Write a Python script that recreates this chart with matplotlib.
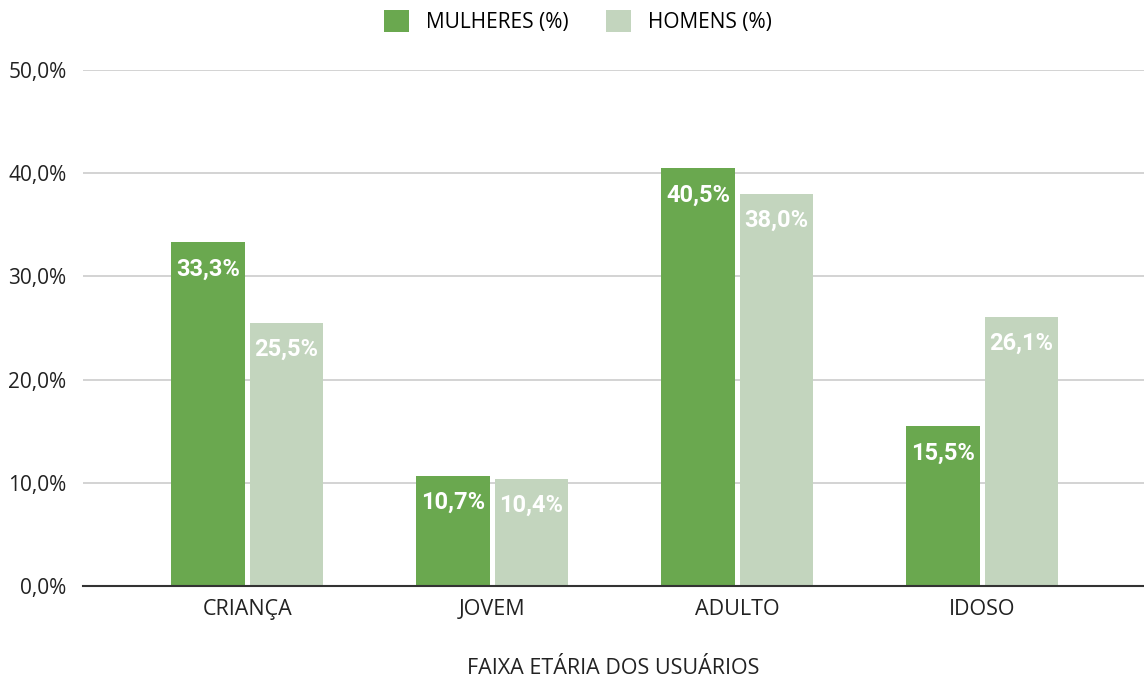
import numpy as np
import matplotlib.pyplot as plt

categorias = ["CRIANÇA", "JOVEM", "ADULTO", "IDOSO"]
mulheres = [33.3, 10.7, 40.5, 15.5]
homens = [25.5, 10.4, 38.0, 26.1]
series = ["MULHERES (%)", "HOMENS (%)"]
yticks = [0, 10, 20, 30, 40, 50]

cor_m = "#6aa84f"
cor_h = "#c3d5be"

plt.rcParams['font.family'] = ['Open Sans', 'DejaVu Sans']

fig = plt.figure(figsize=(11.44, 6.81), dpi=100)
ax = fig.add_axes([0.0726, 0.1395, 0.9274, 0.7575])

x = np.arange(len(categorias))
w = 0.30
gap = 0.02

b1 = ax.bar(x - w/2 - gap/2, mulheres, w, color=cor_m, label=series[0], zorder=3)
b2 = ax.bar(x + w/2 + gap/2, homens, w, color=cor_h, label=series[1], zorder=3)

def fmt(v):
	return f"{v:.1f}%".replace(".", ",")

for bars, vals in ((b1, mulheres), (b2, homens)):
	for b, v in zip(bars, vals):
		ax.text(b.get_x() + b.get_width()/2, v - 2.6, fmt(v), ha="center", va="center",
				color="white", fontsize=17, fontweight="bold", family=["Roboto", "DejaVu Sans"], zorder=4)

ax.set_xlim(-0.67, 3.66)
ax.set_ylim(0, 50)
ax.set_yticks(yticks)
ax.set_yticklabels([fmt(v) for v in yticks], fontsize=15, color="#222222")
ax.set_xticks(x)
ax.set_xticklabels(categorias, fontsize=15.5, color="#222222")
ax.tick_params(length=0)
ax.tick_params(axis="x", pad=9)
ax.tick_params(axis="y", pad=12)

ax.grid(axis="y", color="#cccccc", linewidth=1.2, zorder=0)
for s in ["top", "right", "left"]:
	ax.spines[s].set_visible(False)
ax.spines["bottom"].set_color("#333333")
ax.spines["bottom"].set_linewidth(1.5)
ax.spines["bottom"].set_zorder(5)

ax.set_xlabel("FAIXA ETÁRIA DOS USUÁRIOS", fontsize=15.5, color="#222222", labelpad=28)

fig.legend(loc="center", bbox_to_anchor=(0.505, 0.968), ncol=2, frameon=False,
		   fontsize=15, handlelength=1.2, handleheight=1.2, columnspacing=1.8, handletextpad=0.8)

plt.savefig("out.png", dpi=100)
